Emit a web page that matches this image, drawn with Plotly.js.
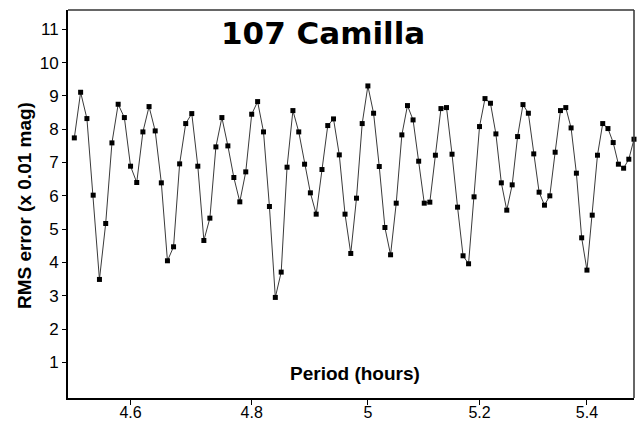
<!DOCTYPE html>
<html>
<head>
<meta charset="utf-8">
<script src="https://cdn.plot.ly/plotly-3.0.1.min.js"></script>
<style>html,body{margin:0;padding:0;background:#fff;}#chart{width:639px;height:427px;}</style>
</head>
<body>
<div id="chart"></div>
<script>
const chartTitle = "107 Camilla";
const xTitle = "Period (hours)";
const yTitle = "RMS error (x 0.01 mag)";

const periods = [
  4.51, 4.52, 4.53, 4.54, 4.55, 4.56, 4.57, 4.58, 4.59, 4.60,
  4.61, 4.62, 4.63, 4.64, 4.65, 4.66, 4.67, 4.68, 4.69, 4.70,
  4.71, 4.72, 4.73, 4.74, 4.75, 4.76, 4.77, 4.78, 4.79, 4.80,
  4.81, 4.82, 4.83, 4.84, 4.85, 4.86, 4.87, 4.88, 4.89, 4.90,
  4.91, 4.92, 4.93, 4.94, 4.95, 4.96, 4.97, 4.98, 4.99, 5.00,
  5.01, 5.02, 5.03, 5.04, 5.05, 5.06, 5.07, 5.08, 5.09, 5.10,
  5.11, 5.12, 5.13, 5.14, 5.15, 5.16, 5.17, 5.18, 5.19, 5.20,
  5.21, 5.22, 5.23, 5.24, 5.25, 5.26, 5.27, 5.28, 5.29, 5.30,
  5.31, 5.32, 5.33, 5.34, 5.35, 5.36, 5.37, 5.38, 5.39, 5.40,
  5.41, 5.42, 5.43, 5.44, 5.45, 5.46, 5.47, 5.48, 5.49
];

const rmsError = [
  7.74, 9.11, 8.32, 6.02, 3.49, 5.17, 7.59, 8.75, 8.35, 6.89,
  6.40, 7.92, 8.68, 7.95, 6.39, 4.05, 4.47, 6.96, 8.17, 8.47,
  6.89, 4.66, 5.33, 7.47, 8.35, 7.50, 6.55, 5.82, 6.72, 8.45,
  8.83, 7.92, 5.68, 2.95, 3.71, 6.86, 8.56, 7.92, 6.95, 6.09,
  5.45, 6.79, 8.11, 8.31, 7.23, 5.45, 4.27, 5.93, 8.17, 9.30,
  8.48, 6.88, 5.05, 4.23, 5.78, 7.83, 8.71, 8.28, 7.04, 5.78,
  5.81, 7.22, 8.62, 8.65, 7.25, 5.66, 4.20, 3.96, 5.97, 8.08,
  8.92, 8.78, 7.86, 6.39, 5.57, 6.33, 7.78, 8.74, 8.48, 7.26,
  6.11, 5.72, 6.00, 7.31, 8.56, 8.65, 8.04, 6.68, 4.74, 3.77,
  5.42, 7.22, 8.17, 8.02, 7.60, 6.95, 6.83, 7.10, 7.70
];

const xTickVals = [4.6, 4.8, 5, 5.2, 5.4];
const xTickText = ["4.6", "4.8", "5", "5.2", "5.4"];
const yTickVals = [1, 2, 3, 4, 5, 6, 7, 8, 9, 10, 11];

const trace = {
  x: periods,
  y: rmsError,
  type: "scatter",
  mode: "lines+markers",
  line: {color: "#3a3a3a", width: 1},
  marker: {symbol: "square", size: 5, color: "#000"},
  cliponaxis: false,
  hoverinfo: "skip"
};

const layout = {
  width: 639,
  height: 427,
  margin: {l: 68, r: 5, t: 10, b: 29, pad: 0},
  paper_bgcolor: "#fff",
  plot_bgcolor: "#fff",
  showlegend: false,
  font: {family: "Liberation Sans, Arial, sans-serif", color: "#000", size: 17},
  xaxis: {
    type: "log",
    range: [Math.log10(4.5), Math.log10(5.49)],
    tickmode: "array",
    tickvals: xTickVals,
    ticktext: xTickText,
    ticks: "outside",
    ticklen: 5,
    tickwidth: 1,
    tickcolor: "#000",
    ticklabelstandoff: -6,
    showline: true,
    linecolor: "#000",
    linewidth: 2,
    showgrid: false,
    zeroline: false,
    tickfont: {size: 16, family: "Liberation Sans, Arial, sans-serif"}
  },
  yaxis: {
    range: [-0.07, 11.58],
    tickmode: "array",
    tickvals: yTickVals,
    ticks: "outside",
    ticklen: 4,
    tickwidth: 1,
    tickcolor: "#000",
    showline: true,
    linecolor: "#000",
    linewidth: 2,
    showgrid: false,
    zeroline: false,
    tickfont: {size: 17, family: "Liberation Sans, Arial, sans-serif"}
  },
  shapes: [
    {type: "line", xref: "paper", yref: "paper", x0: 0, x1: 1, y0: 1, y1: 1, line: {color: "#333", width: 1.5}},
    {type: "line", xref: "paper", yref: "paper", x0: 1, x1: 1, y0: 0, y1: 1, line: {color: "#333", width: 1.5}}
  ],
  annotations: [
    {text: "<b>" + chartTitle + "</b>", xref: "paper", yref: "paper", x: 0.4514, y: 0.941,
     xanchor: "center", yanchor: "middle", showarrow: false,
     font: {family: "DejaVu Sans, sans-serif", size: 31, color: "#000"}},
    {text: "<b>" + xTitle + "</b>", xref: "paper", yref: "paper", x: 0.507, y: 0.062,
     xanchor: "center", yanchor: "middle", showarrow: false,
     font: {family: "Liberation Sans, Arial, sans-serif", size: 19, color: "#000"}},
    {text: "<b>" + yTitle + "</b>", xref: "paper", yref: "paper", x: -0.078, y: 0.497,
     xanchor: "center", yanchor: "middle", textangle: -90, showarrow: false,
     font: {family: "Liberation Sans, Arial, sans-serif", size: 19, color: "#000"}}
  ]
};

Plotly.newPlot("chart", [trace], layout, {displayModeBar: false, staticPlot: true});
</script>
</body>
</html>
